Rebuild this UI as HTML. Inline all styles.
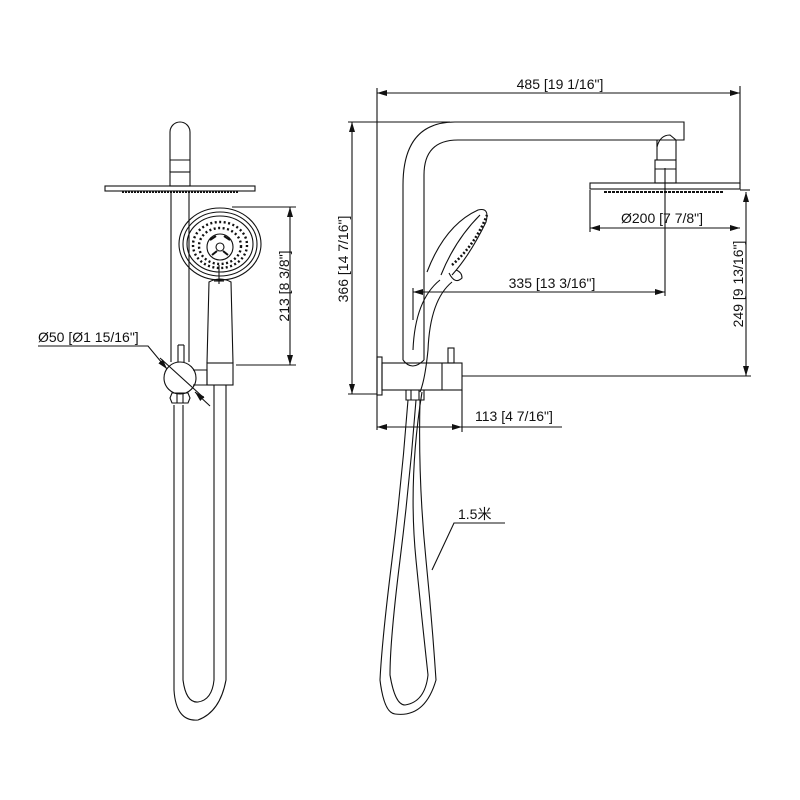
<!DOCTYPE html>
<html><head><meta charset="utf-8"><style>
html,body{margin:0;padding:0;background:#fff;}
svg{display:block;}
text{font-family:"Liberation Sans","Noto Sans CJK SC",sans-serif;font-size:14px;fill:#111;}
</style></head><body>
<svg width="800" height="800" viewBox="0 0 800 800" xmlns="http://www.w3.org/2000/svg">
<defs>
<marker id="a" viewBox="0 0 10 6" refX="10" refY="3" markerWidth="10" markerHeight="6" orient="auto-start-reverse" markerUnits="userSpaceOnUse"><path d="M0,0 L10,3 L0,6 z" fill="#111"/></marker>
</defs>
<g fill="none" stroke="#111" stroke-width="1.1">
<!-- LEFT VIEW -->
<path d="M170,172 L170,132 A10,10 0 0 1 190,132 L190,172"/>
<line x1="170" y1="160" x2="190" y2="160"/>
<rect x="170" y="172" width="20" height="14"/>
<rect x="105" y="186" width="150" height="5"/>
<path d="M122,192 L238,192" stroke-dasharray="2,1" stroke-width="2"/>
<line x1="171" y1="191" x2="171" y2="362"/>
<line x1="189" y1="191" x2="189" y2="362"/>
<!-- hand shower face -->
<ellipse cx="220" cy="244" rx="41" ry="36"/>
<ellipse cx="220" cy="244" rx="37" ry="32"/>
<ellipse cx="220" cy="244" rx="33" ry="28"/>
<ellipse cx="220" cy="245" rx="27" ry="23" stroke-dasharray="2,2.5" stroke-width="2.4"/>
<ellipse cx="220" cy="246" rx="21" ry="18" stroke-dasharray="2,2.5" stroke-width="2.4"/>
<circle cx="220" cy="247" r="13" fill="#fff"/>
<circle cx="220" cy="247" r="4"/>
<path d="M210,240 L216,236 M230,240 L224,236 M212,255 L217,251 M228,255 L223,251" stroke-width="2"/>
<line x1="219" y1="265" x2="219" y2="284"/>
<line x1="214" y1="281" x2="224" y2="281"/>
<path d="M207,363 L209,282 Q220,276 231,282 L233,363"/>
<rect x="207" y="363" width="26" height="22"/>
<path d="M193,370 L207,370 L207,385 L193,385"/>
<circle cx="180" cy="378" r="16"/>
<line x1="178" y1="345" x2="178" y2="362"/><line x1="184" y1="345" x2="184" y2="362"/><line x1="178" y1="345" x2="184" y2="345"/>
<path d="M172,393 L188,393 L190,398 L188,403 L172,403 L170,398 Z"/>
<line x1="177" y1="393" x2="177" y2="403"/><line x1="183" y1="393" x2="183" y2="403"/>
<!-- left hose -->
<path d="M174,405 L174,690 Q176,722 198,720 Q220,712 226,680 L226,385"/>
<path d="M183,405 L183,680 Q186,703 198,702 Q212,700 214,680 L214,385"/>
<!-- 213 dim -->
<line x1="232" y1="207" x2="296" y2="207"/>
<line x1="236" y1="365" x2="296" y2="365"/>
<line x1="290" y1="207" x2="290" y2="365" marker-start="url(#a)" marker-end="url(#a)"/>
<!-- Ø50 -->
<polyline points="38,346 148,346 167,369" marker-end="url(#a)"/>
<line x1="160" y1="358" x2="204" y2="398"/>
<line x1="210" y1="406" x2="195" y2="392" marker-end="url(#a)"/>

<!-- RIGHT VIEW -->
<rect x="377" y="357" width="5" height="38"/>
<rect x="382" y="363" width="80" height="27"/>
<line x1="442" y1="363" x2="442" y2="390"/>
<rect x="448" y="348" width="6" height="15"/>
<path d="M403,360 L403,185 Q403,122 455,122 L684,122 L684,140 L657,140"/>
<path d="M424,360 L424,175 Q424,140 458,140 L657,140"/>
<path d="M403,360 Q412,372 424,360"/>
<path d="M657,140 L657,147 Q660,135 670,135 L676,140 L676,160"/>
<path d="M657,140 L657,160"/>
<rect x="655" y="160" width="21" height="23"/>
<line x1="655" y1="169" x2="676" y2="169"/>
<rect x="590" y="183" width="150" height="6"/>
<path d="M604,192 L724,192" stroke-dasharray="3,1" stroke-width="2"/>
<!-- right hand shower -->
<path d="M427,272 Q445,225 478,210 Q490,207 486,222 Q470,255 452,275"/>
<path d="M441,275 Q455,240 480,215"/>
<path d="M452,265 Q475,245 487,215" stroke-dasharray="2,2" stroke-width="2.5"/>
<path d="M449,273 Q455,285 462,278 Q462,272 456,270"/>
<path d="M413,350 Q415,300 440,280"/>
<path d="M428,350 Q430,300 452,282"/>
<path d="M406,390 L424,390 L424,400 L406,400 Z"/>
<line x1="411" y1="390" x2="411" y2="400"/><line x1="419" y1="390" x2="419" y2="400"/>
<!-- right hose -->
<path d="M408,400 Q402,480 392,560 Q382,640 380,680 Q384,713 395,714 Q425,718 436,680 Q432,620 426,560 Q418,480 420,400"/>
<path d="M416,400 Q410,480 400,560 Q390,640 390,675 Q395,705 405,705 Q425,702 428,675 Q422,620 416,560 Q408,480 422,392"/>
<path d="M420,392 Q425,380 428,350"/>
<!-- 1.5 leader -->
<polyline points="505,523 454,523 432,570"/>
<!-- 485 dim -->
<line x1="377" y1="88" x2="377" y2="430"/>
<line x1="740" y1="86" x2="740" y2="184"/>
<line x1="377" y1="93" x2="740" y2="93" marker-start="url(#a)" marker-end="url(#a)"/>
<!-- 366 -->
<line x1="348" y1="122" x2="450" y2="122"/>
<line x1="348" y1="394" x2="377" y2="394"/>
<line x1="352" y1="122" x2="352" y2="394" marker-start="url(#a)" marker-end="url(#a)"/>
<!-- Ø200 -->
<line x1="590" y1="190" x2="590" y2="232"/>
<line x1="590" y1="228" x2="740" y2="228" marker-start="url(#a)" marker-end="url(#a)"/>
<!-- 335 -->
<line x1="665" y1="168" x2="665" y2="296"/>
<line x1="413" y1="292" x2="665" y2="292" marker-start="url(#a)" marker-end="url(#a)"/>
<line x1="413" y1="288" x2="413" y2="320"/>
<!-- 249 -->
<line x1="740" y1="190" x2="750" y2="190"/>
<line x1="462" y1="376" x2="751" y2="376"/>
<line x1="746" y1="192" x2="746" y2="376" marker-start="url(#a)" marker-end="url(#a)"/>
<!-- 113 -->
<line x1="462" y1="390" x2="462" y2="432"/>
<line x1="377" y1="427" x2="462" y2="427" marker-start="url(#a)" marker-end="url(#a)"/>
<line x1="462" y1="427" x2="562" y2="427"/>
</g>
<text x="38" y="342">Ø50 [Ø1 15/16"]</text>
<text transform="translate(289,286) rotate(-90)" text-anchor="middle">213 [8 3/8"]</text>
<text x="560" y="89" text-anchor="middle">485 [19 1/16"]</text>
<text transform="translate(348,259) rotate(-90)" text-anchor="middle">366 [14 7/16"]</text>
<text x="662" y="223" text-anchor="middle">Ø200 [7 7/8"]</text>
<text x="552" y="288" text-anchor="middle">335 [13 3/16"]</text>
<text transform="translate(743,284) rotate(-90)" text-anchor="middle">249 [9 13/16"]</text>
<text x="475" y="421">113 [4 7/16"]</text>
<text x="458" y="519">1.5米</text>
</svg>
</body></html>
